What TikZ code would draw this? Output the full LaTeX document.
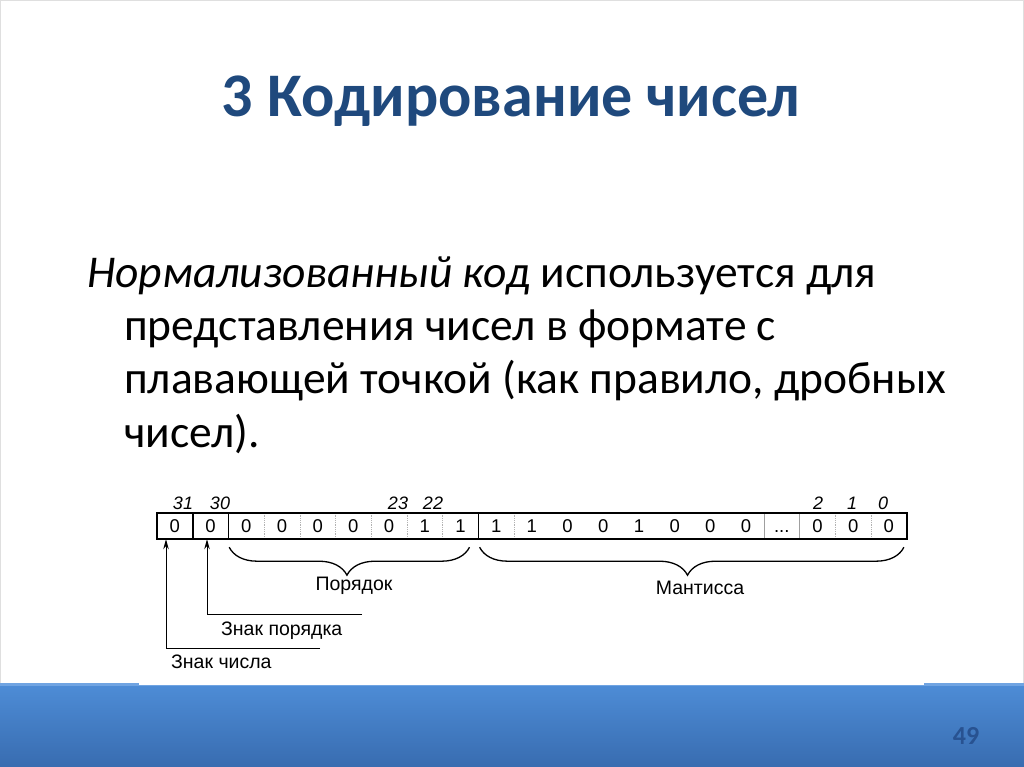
\documentclass[tikz,border=0pt]{standalone}
\usepackage{fontspec}
\setmainfont{Carlito}
\newfontfamily\figfont{Liberation Sans}
\usetikzlibrary{arrows.meta,decorations.pathreplacing}
\definecolor{titleblue}{RGB}{31,73,125}
\definecolor{barlight}{RGB}{78,141,215}
\definecolor{bardark}{RGB}{56,108,176}
\definecolor{barhi}{RGB}{112,164,226}
\definecolor{pagenum}{RGB}{40,82,145}
\newcommand\celldots{\vphantom{0}...}
\begin{document}
\begin{tikzpicture}[x=1pt,y=-1pt,
  every node/.style={inner sep=0pt},
  cell/.style={minimum width=35.7pt,minimum height=26pt,font=\figfont\fontsize{18.5}{18.5}\selectfont},
  bitno/.style={font=\figfont\itshape\fontsize{18}{18}\selectfont},
  lbl/.style={font=\figfont\fontsize{19.5}{19.5}\selectfont},
  body/.style={anchor=base west,font=\fontsize{45.5}{48}\selectfont},
  pointer/.style={line width=1pt,-{Stealth[length=10pt,width=5.5pt]}},
  grp/.style={decorate,decoration={brace,mirror,amplitude=28pt,aspect=0.49},line width=1.3pt}]
\useasboundingbox (0,0) rectangle (1024,767);
\draw[gray!25,line width=0.8pt] (0.4,0.4) rectangle (1023.6,766.6);
% bottom bar
\shade[top color=barlight,bottom color=bardark] (0,683) rectangle (1024,767);
\fill[barhi] (0,683) rectangle (1024,686);
\fill[white] (139,660) rectangle (924,685);
\node[font=\bfseries\fontsize{26}{26}\selectfont,text=pagenum] (pg) at (966,736) {49};
% title and text
\node[font=\bfseries\fontsize{62}{62}\selectfont,text=titleblue,anchor=base] (title) at (511,117) {3 Кодирование чисел};
\node[body] (line1) at (87,287) {\textit{Нормализованный код} используется для};
\node[body] (line2) at (124,340) {представления чисел в формате с};
\node[body] (line3) at (124,393) {плавающей точкой (как правило, дробных};
\node[body] (line4) at (124,447) {чисел).};
% register
\foreach \v [count=\i] in {0,0,0,0,0,0,0,1,1,1,1,0,0,1,0,0,0,\celldots,0,0,0}
  \node[cell] (c\i) at (157+35.7*\i-17.85,526) {\v};
\foreach \i in {3,...,8,10,...,16,19,20}
  \draw[gray!60,densely dotted,line width=0.8pt] (c\i.north east) -- (c\i.south east);
\foreach \i in {17,18}
  \draw[gray!75,line width=0.8pt] (c\i.north east) -- (c\i.south east);
\foreach \i in {1,2,9}
  \draw[line width=1.4pt] (c\i.north east) -- (c\i.south east);
\draw[line width=1.9pt] (c1.north west) rectangle (c21.south east);
% bit numbers
\node[bitno] (b31) at (183,503) {31};
\node[bitno] (b30) at (220,503) {30};
\node[bitno] (b23) at (398,503) {23};
\node[bitno] (b22) at (433,503) {22};
\node[bitno] (b2) at (818,503) {2};
\node[bitno] (b1) at (852,503) {1};
\node[bitno] (b0) at (883,503) {0};
% fields
\draw[grp] ([shift={(1,8)}]c3.south west) -- ([shift={(-9,8)}]c9.south east);
\draw[grp] ([shift={(1.5,8)}]c10.south west) -- ([shift={(-3,8)}]c21.south east);
\node[lbl] (exp) at (354,586) {Порядок};
\node[lbl] (mant) at (700,588) {Мантисса};
% signs
\coordinate (snum) at (166,648);
\coordinate (snumEnd) at (320,648);
\coordinate (sexp) at (207,614);
\coordinate (sexpEnd) at (362,614);
\draw[pointer] (snumEnd) -- (snum) -- (snum |- c1.south);
\draw[pointer] (sexpEnd) -- (sexp) -- (sexp |- c2.south);
\node[lbl,anchor=west] (lexp) at (221,631) {Знак порядка};
\node[lbl,anchor=west] (lnum) at (171,662) {Знак числа};
\end{tikzpicture}
\end{document}
